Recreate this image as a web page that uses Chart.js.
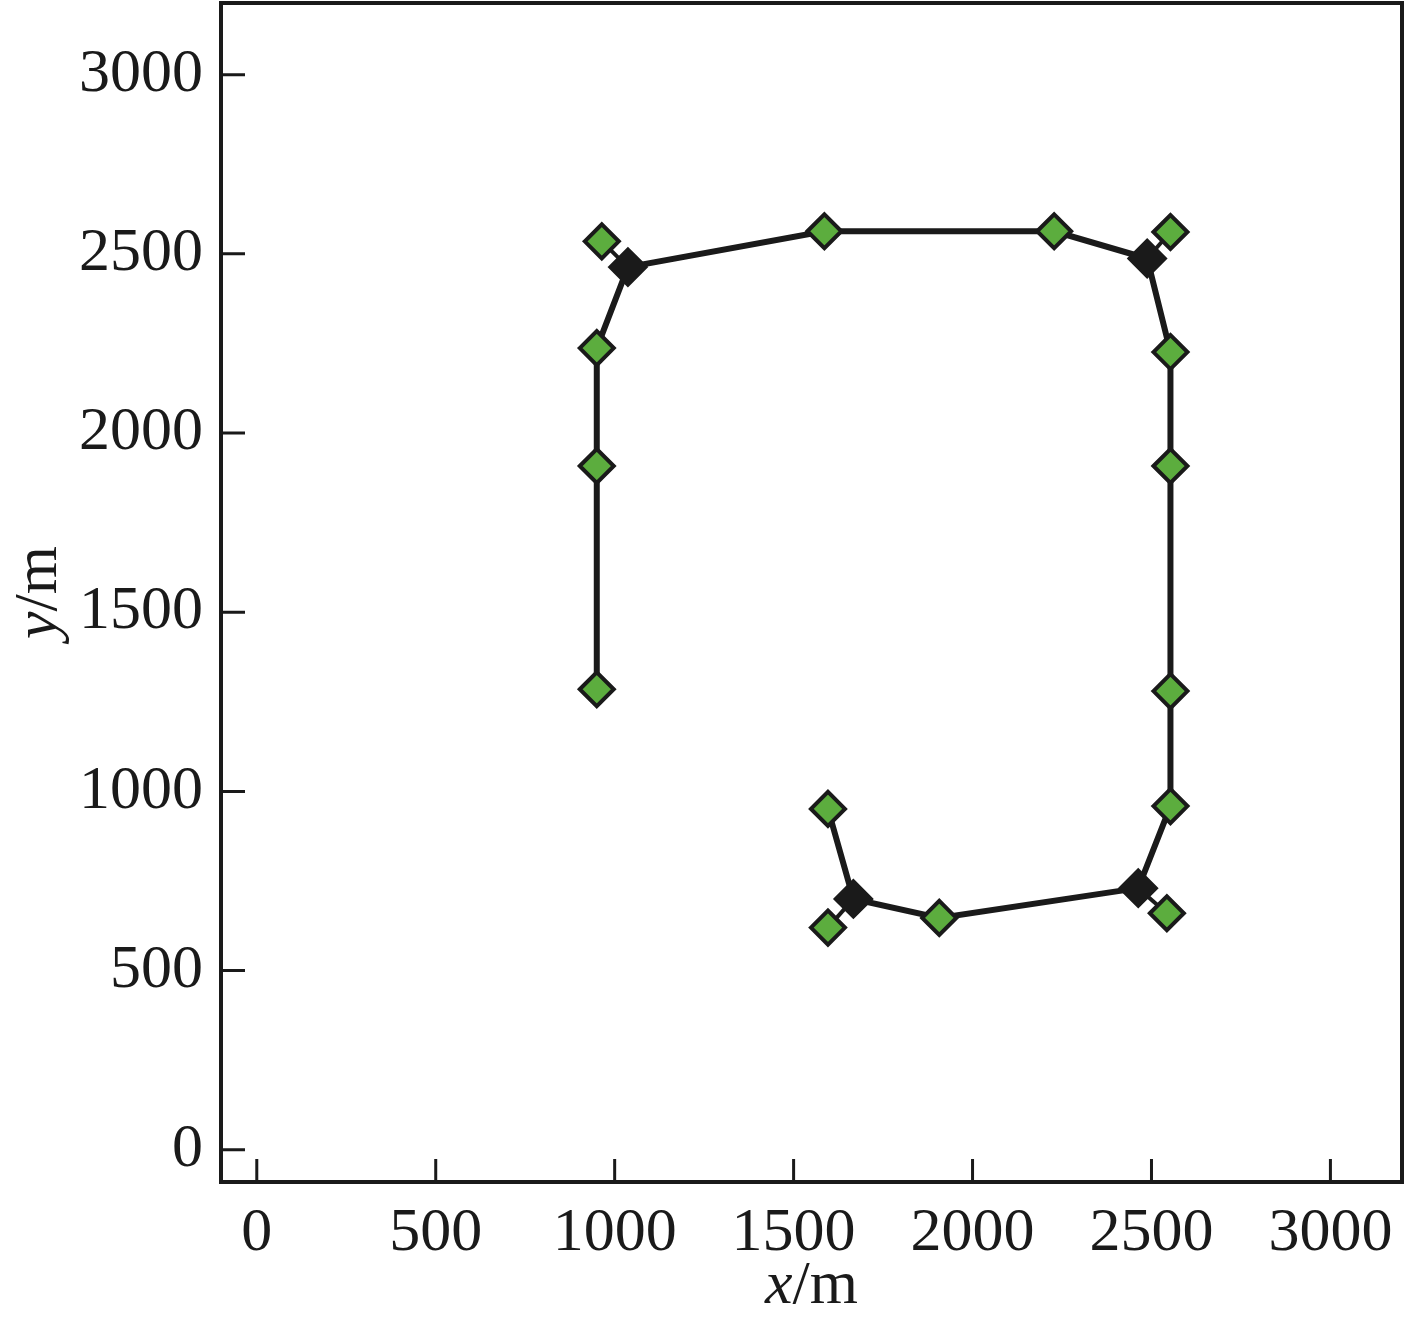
<!DOCTYPE html>
<html>
<head>
<meta charset="utf-8">
<style>
  html, body { margin: 0; padding: 0; background: #fff; }
  #wrap { width: 1405px; height: 1324px; position: relative; }
</style>
<script src="https://cdn.jsdelivr.net/npm/chart.js@4/dist/chart.umd.min.js"></script>
</head>
<body>
<div id="wrap"><canvas id="routeChart"></canvas></div>
<script>
// main route, in order
const pathX = [950, 950, 950, 1037, 1586, 2228, 2488, 2553, 2553, 2553, 2553, 2463, 1907, 1667, 1596];
const pathY = [1285, 1908, 2237, 2463, 2563, 2563, 2487, 2226, 1908, 1280, 959, 730, 647, 700, 951];

// black diamonds (junctions)
const juncX = [1037, 2488, 2463, 1667];
const juncY = [2463, 2487, 730, 700];

// green diamonds on the route
const nodeX = [950, 950, 950, 1586, 2228, 2553, 2553, 2553, 2553, 1907, 1596];
const nodeY = [1285, 1908, 2237, 2563, 2563, 2226, 1908, 1280, 959, 647, 951];

// green diamonds hanging off a junction
const spurX = [964, 2553, 2543, 1596];
const spurY = [2535, 2561, 660, 620];

const tickValues = [0, 500, 1000, 1500, 2000, 2500, 3000];

const ink = '#1a1a1a';
const green = '#5cad3e';
const serif = '"Liberation Serif", "DejaVu Serif", serif';

function pts(xs, ys) {
    return xs.map(function (x, i) { return { x: x, y: ys[i] }; });
}

const spurSets = spurX.map(function (x, i) {
    return {
        data: [{ x: juncX[i], y: juncY[i] }, { x: x, y: spurY[i] }],
        showLine: true,
        borderColor: ink,
        borderWidth: 4,
        pointRadius: 0,
        order: 5
    };
});

// frame, inward ticks and axis titles
const decor = {
    id: 'decor',
    afterDraw(chart) {
        const ctx = chart.ctx;
        const a = chart.chartArea;
        const xs = chart.scales.x, ys = chart.scales.y;
        ctx.save();
        ctx.strokeStyle = ink;
        ctx.lineWidth = 3;
        ctx.beginPath();
        tickValues.forEach(function (v) {
            const px = xs.getPixelForValue(v);
            ctx.moveTo(px, a.bottom);
            ctx.lineTo(px, a.bottom - 23);
            const py = ys.getPixelForValue(v);
            ctx.moveTo(a.left, py);
            ctx.lineTo(a.left + 24, py);
        });
        ctx.stroke();
        ctx.lineWidth = 4;
        ctx.strokeRect(a.left, a.top, a.right - a.left, a.bottom - a.top);

        // axis titles: italic variable + upright unit
        ctx.fillStyle = ink;
        ctx.textBaseline = 'alphabetic';
        function title(v, cx, cy) {
            ctx.font = 'italic 62px ' + serif;
            const w1 = ctx.measureText(v).width;
            ctx.font = '62px ' + serif;
            const w2 = ctx.measureText('/m').width;
            let x0 = cx - (w1 + w2) / 2;
            ctx.font = 'italic 62px ' + serif;
            ctx.fillText(v, x0, cy);
            ctx.font = '62px ' + serif;
            ctx.fillText('/m', x0 + w1, cy);
        }
        title('x', (a.left + a.right) / 2, 1303);
        ctx.translate(56, (a.top + a.bottom) / 2);
        ctx.rotate(-Math.PI / 2);
        title('y', 0, 0);
        ctx.restore();
    }
};

const chart = new Chart(document.getElementById('routeChart'), {
    type: 'scatter',
    data: {
        datasets: [
            {
                data: pts(nodeX, nodeY),
                pointStyle: 'rectRot',
                pointRadius: 17,
                pointHoverRadius: 17,
                backgroundColor: green,
                borderColor: ink,
                borderWidth: 4,
                order: 1
            },
            {
                data: pts(spurX, spurY),
                pointStyle: 'rectRot',
                pointRadius: 17,
                pointHoverRadius: 17,
                backgroundColor: green,
                borderColor: ink,
                borderWidth: 4,
                order: 2
            },
            {
                data: pts(juncX, juncY),
                pointStyle: 'rectRot',
                pointRadius: 19,
                pointHoverRadius: 19,
                backgroundColor: ink,
                borderColor: ink,
                borderWidth: 2,
                order: 3
            },
            {
                data: pts(pathX, pathY),
                showLine: true,
                borderColor: ink,
                borderWidth: 6,
                pointRadius: 0,
                order: 4
            }
        ].concat(spurSets)
    },
    options: {
        responsive: true,
        maintainAspectRatio: false,
        animation: false,
        layout: { autoPadding: false, padding: { top: 3, right: 3, left: 0, bottom: 0 } },
        plugins: { legend: { display: false }, tooltip: { enabled: false } },
        scales: {
            x: {
                type: 'linear',
                min: -100,
                max: 3200,
                afterBuildTicks: function (s) { s.ticks = tickValues.map(function (v) { return { value: v }; }); },
                afterFit: function (s) {
                    s.height = 142;
                    s.paddingLeft = 0; s.paddingRight = 0;
                },
                grid: { display: false, drawTicks: false },
                border: { display: false },
                ticks: {
                    color: ink, font: { family: serif, size: 62 }, padding: 15, maxRotation: 0, autoSkip: false,
                    callback: function (v) { return String(v); }
                }
            },
            y: {
                type: 'linear',
                min: -90,
                max: 3200,
                afterBuildTicks: function (s) { s.ticks = tickValues.map(function (v) { return { value: v }; }); },
                afterFit: function (s) {
                    s.width = 221;
                    s.paddingTop = 0; s.paddingBottom = 0;
                },
                grid: { display: false, drawTicks: false },
                border: { display: false },
                ticks: {
                    color: ink, font: { family: serif, size: 62 }, padding: 18, autoSkip: false,
                    callback: function (v) { return String(v); }
                }
            }
        }
    },
    plugins: [decor]
});
</script>
</body>
</html>
